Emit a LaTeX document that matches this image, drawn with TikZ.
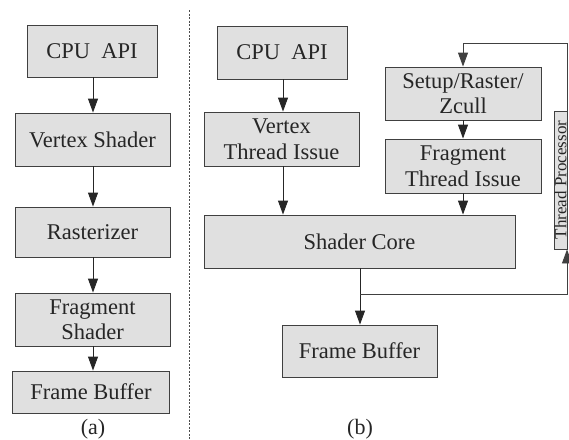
\documentclass[tikz,border=0pt]{standalone}
\usepackage{fontspec}
\setmainfont{Liberation Serif}
\usetikzlibrary{arrows.meta}
\begin{document}
\begin{tikzpicture}[x=1pt,y=-1pt,
  box/.style={draw=black!75, fill=black!12, line width=0.9pt, inner sep=0pt,
    align=center, font=\fontsize{22.5}{25.5}\selectfont, text=black!85},
  arr/.style={-{Triangle[length=14pt,width=10pt]}, line width=0.9pt, draw=black!85},
  sublabel/.style={font=\fontsize{22}{25}\selectfont, text=black!85}]
\useasboundingbox (0,0) rectangle (569,439);
% (a)
\node[box, minimum width=130pt, minimum height=52pt] (cpuA) at (92,51) {CPU\ \ API};
\node[box, minimum width=155pt, minimum height=53pt] (vs) at (92.5,139.5) {Vertex Shader};
\node[box, minimum width=155pt, minimum height=50pt] (ras) at (92.5,232) {Rasterizer};
\node[box, minimum width=155pt, minimum height=53pt] (fs) at (92.5,319.5) {Fragment\\Shader};
\node[box, minimum width=157pt, minimum height=42pt] (fbA) at (91,392) {Frame Buffer};
\node[sublabel] (la) at (93,429) {(a)};
\draw[arr] (cpuA.south -| 93,0) -- (vs.north -| 93,0);
\draw[arr] (vs.south -| 93,0) -- (ras.north -| 93,0);
\draw[arr] (ras.south -| 93,0) -- (fs.north -| 93,0);
\draw[arr] (fs.south -| 93,0) -- (fbA.north -| 93,0);
% divider
\coordinate (d1) at (189,10);
\coordinate (d2) at (189,439);
\draw[black!70, line width=0.8pt, dash pattern=on 2pt off 1.5pt] (d1) -- (d2);
% (b)
\node[box, minimum width=130pt, minimum height=53pt] (cpuB) at (282,52.5) {CPU\ \ API};
\node[box, minimum width=155pt, minimum height=54pt] (vti) at (281.5,139) {Vertex\\Thread Issue};
\node[box, minimum width=311pt, minimum height=53pt] (sc) at (359.5,241.5) {Shader Core};
\node[box, minimum width=156pt, minimum height=53pt] (setup) at (463,93.5) {Setup/Raster/\\Zcull};
\node[box, minimum width=156pt, minimum height=54pt] (fti) at (463,166) {Fragment\\Thread Issue};
\node[box, minimum width=138pt, minimum height=13pt, rotate=90, font=\fontsize{17}{18}\selectfont] (tp) at (560.5,180) {Thread Processor};
\node[box, minimum width=155pt, minimum height=52pt] (fbB) at (359.5,351) {Frame Buffer};
\node[sublabel] (lb) at (360,429) {(b)};
\draw[arr] (cpuB.south -| 283,0) -- (vti.north -| 283,0);
\draw[arr] (vti.south -| 283,0) -- (sc.north -| 283,0);
\draw[arr] (setup) -- (fti);
\draw[arr] (fti.south) -- (sc.north -| fti.south);
\draw[arr] (sc.south -| 360,0) -- (fbB.north -| 360,0);
\coordinate (br) at (360,294);
\coordinate (tr) at (567,43);
\draw[arr, draw=black!75] (br) -| (tp.west -| 567,0);
\draw[arr, draw=black!75] (tp.east -| 567,0) -- (tr) -| (setup.north);
\end{tikzpicture}
\end{document}
